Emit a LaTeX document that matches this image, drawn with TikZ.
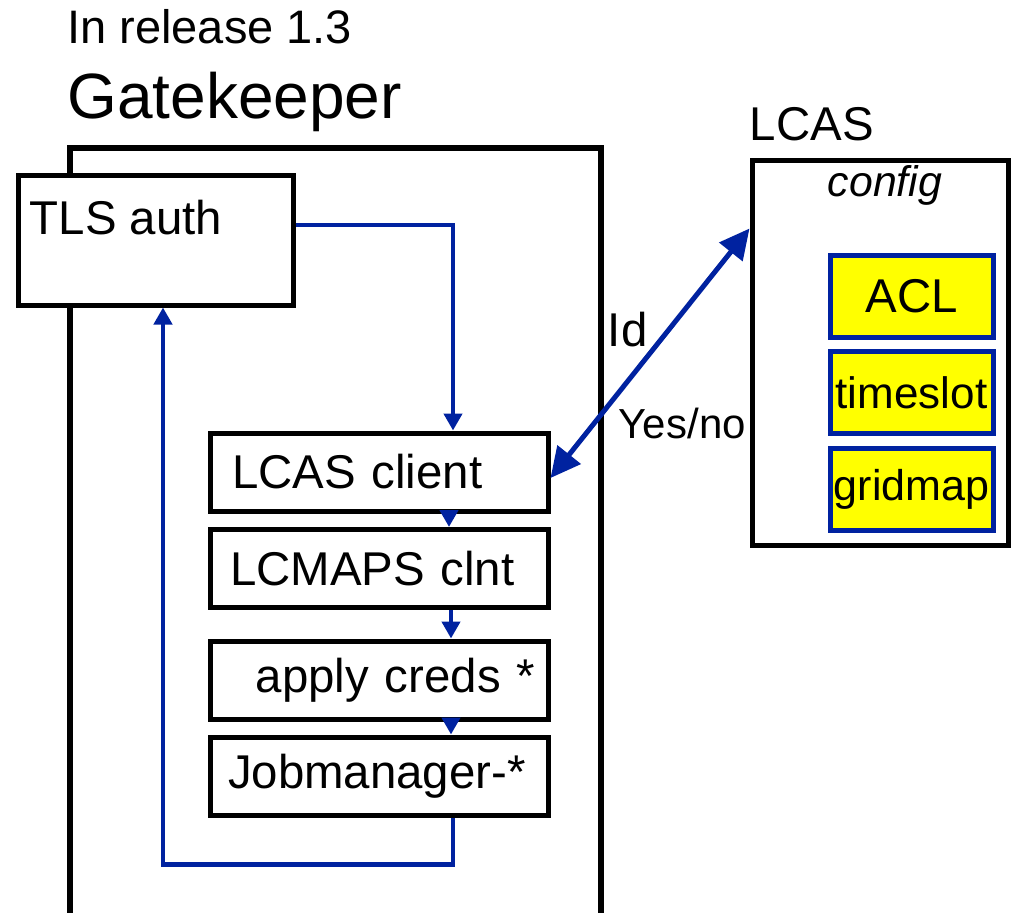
\documentclass[tikz,border=0pt]{standalone}
\usepackage{fontspec}
\setmainfont{Liberation Sans}
\usetikzlibrary{arrows.meta}
\definecolor{flowblue}{RGB}{0,34,160}
\definecolor{cfgyellow}{RGB}{255,255,0}

\tikzset{
  box/.style={draw, line width=2.5pt, fill=white, rectangle, inner sep=0pt,
    font=\fontsize{23.7}{28}\selectfont},
  stepbox/.style={box, minimum height=39pt, inner xsep=10pt, text width=149pt, align=left},
  cfgbox/.style={draw=flowblue, fill=cfgyellow, line width=2.5pt, inner sep=0pt,
    minimum width=81.5pt, minimum height=41pt, font=\fontsize{22}{26}\selectfont},
  flow/.style={draw=flowblue, line width=2.2pt, -{Triangle[length=8.5pt,width=9pt]}},
  query/.style={draw=flowblue, line width=2.5pt,
    {Triangle[length=15pt,width=14.5pt]}-{Triangle[length=15pt,width=14.5pt]}},
  lbl/.style={inner sep=0pt, font=\fontsize{23.7}{28}\selectfont}
}

\begin{document}
\begin{tikzpicture}[x=0.5pt, y=-0.5pt]
  \clip (0,0) rectangle (1017,912);
  % gatekeeper side
  \node[box, line width=3pt, minimum width=265.5pt, minimum height=400pt, anchor=north west,
    label={[lbl, anchor=base west, yshift=13.5pt, font=\fontsize{32}{38}\selectfont]north west:Gatekeeper}] (gk) at (67,145) {};
  \node[lbl, anchor=base west, font=\fontsize{23.5}{28}\selectfont] (release) at (67,43) {In release 1.3};
  \node[box, minimum width=137.5pt, minimum height=65pt,
    label={[lbl, anchor=north west, xshift=7pt, yshift=-13.5pt]north west:TLS auth}] (tls) at (155.5,240) {};
  \node[stepbox, inner xsep=11pt, text width=147pt] (lcasc) at (379,472) {LCAS client};
  \node[stepbox] (lcmaps) at (379,568.5) {LCMAPS clnt};
  \node[stepbox, inner xsep=6.5pt, text width=156pt, align=right] (apply) at (379,680) {apply creds *};
  \node[stepbox, inner xsep=9pt, text width=151pt] (jobm) at (379,776) {Jobmanager-*};
  % lcas side
  \node[box, minimum width=128pt, minimum height=192.5pt,
    label={[lbl, anchor=base west, yshift=8.5pt]north west:LCAS},
    label={[lbl, anchor=north, xshift=2.5pt, yshift=-4pt, font=\fontsize{21.4}{26}\itshape]north:config}] (lcas) at (880,352.5) {};
  \node[cfgbox, font=\fontsize{23.7}{28}\selectfont] (acl) at (911.5,296) {ACL};
  \node[cfgbox] (timeslot) at (911.5,392.5) {timeslot};
  \node[cfgbox, font=\fontsize{21.5}{26}\selectfont] (gridmap) at (911.5,489) {gridmap};
  % arrows
  \draw[flow] ([yshift=7.5pt]tls.east) -| ([xshift=37pt]lcasc.north);
  \draw[flow] ([xshift=35pt]lcasc.south) -- ([xshift=35pt]lcmaps.north);
  \draw[flow] ([xshift=36pt]lcmaps.south) -- ([xshift=36pt]apply.north);
  \draw[flow] ([xshift=36pt]apply.south) -- ([xshift=36pt]jobm.north);
  \draw[flow] ([xshift=37pt]jobm.south) -- ++(0,47) -| ([xshift=3.75pt]tls.south);
  \draw[query] ([yshift=-3pt]lcasc.east) -- ([yshift=62pt]lcas.west)
    node[lbl, pos=0.58, anchor=east, xshift=-8pt, yshift=2pt] (id) {Id}
    node[lbl, pos=0.22, anchor=west, xshift=11pt, font=\fontsize{21}{26}\selectfont] (yesno) {Yes/no};
\end{tikzpicture}
\end{document}
